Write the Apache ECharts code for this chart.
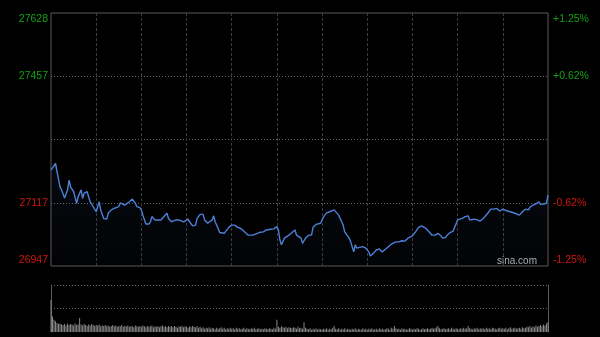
<!DOCTYPE html>
<html>
<head>
<meta charset="utf-8">
<script src="https://cdn.jsdelivr.net/npm/echarts@6/dist/echarts.min.js"></script>
<style>
html,body{margin:0;padding:0;background:#000;}
#c{width:600px;height:337px;}
</style>
</head>
<body>
<div id="c"></div>
<script>
// Index price by minute of the trading session (0 = 09:30, 330 = 16:00)
const minutes = [0,3,4,6,7,9,11,12,13,15,17,18,20,21,22,24,25,26,28,29,30,32,33,34,35,37,38,40,42,43,45,46,47,49,50,52,53,54,56,57,59,60,61,63,65,66,67,69,70,73,75,77,78,80,83,85,86,88,89,91,92,94,96,97,99,100,101,102,104,105,107,108,109,111,112,115,116,118,120,122,124,126,127,129,131,132,134,137,139,141,143,146,148,150,151,152,153,155,156,158,160,162,163,164,166,167,169,171,173,174,176,179,181,183,185,188,189,191,193,194,195,198,199,200,201,202,203,204,207,209,211,212,214,216,218,220,222,224,226,229,231,233,235,237,240,242,244,246,249,251,253,255,257,259,260,262,263,265,267,268,270,271,273,275,277,278,281,283,285,287,290,292,294,296,298,300,303,305,308,311,313,315,317,318,320,322,324,325,327,329,330];
const prices = [27205,27223,27201,27160,27152,27130,27152,27178,27160,27147,27116,27133,27152,27129,27143,27147,27143,27120,27107,27102,27093,27120,27098,27093,27075,27073,27089,27098,27102,27098,27107,27117,27116,27111,27113,27120,27123,27127,27116,27107,27104,27098,27084,27060,27060,27066,27080,27071,27066,27071,27080,27089,27075,27066,27071,27071,27075,27066,27071,27073,27066,27055,27057,27075,27086,27082,27086,27071,27062,27057,27071,27082,27066,27048,27037,27035,27039,27051,27057,27057,27051,27048,27048,27037,27030,27028,27030,27035,27038,27039,27044,27046,27047,27053,27044,27017,27004,27022,27024,27030,27037,27044,27030,27035,27022,27008,27022,27030,27030,27051,27059,27062,27080,27090,27093,27098,27093,27084,27066,27057,27039,27022,27012,27008,26985,27004,26995,26999,26999,26995,26985,26974,26981,26990,26993,26985,26992,26999,27006,27012,27012,27015,27014,27022,27028,27039,27051,27055,27048,27039,27030,27030,27035,27028,27022,27024,27030,27037,27041,27044,27071,27075,27075,27080,27082,27071,27073,27071,27068,27075,27089,27100,27100,27102,27095,27100,27095,27093,27089,27084,27093,27100,27098,27105,27111,27114,27120,27113,27114,27116,27138];

// Volume per minute (relative units, one bar per minute 0..330)
const volumes = [
68,33,26,23,19,17,18,16,15,17,
14,18,15,17,16,14,18,15,16,30,
16,14,17,15,13,16,14,17,15,13,
15,14,16,12,14,13,15,12,14,11,
13,15,12,14,11,13,12,15,11,13,
12,14,11,13,12,10,14,12,11,13,
11,14,12,10,13,11,12,14,10,12,
11,13,10,12,14,11,12,10,13,11,
12,10,13,11,9,12,11,13,10,12,
11,9,12,10,13,11,10,12,9,11,
8,10,7,9,8,10,7,9,8,6,
9,7,8,10,7,9,6,8,7,9,
7,8,6,9,7,8,6,7,9,6,
8,7,6,8,7,9,6,7,8,6,
7,6,8,7,6,8,7,6,9,7,
26,11,9,12,10,9,11,8,10,9,
8,10,9,7,11,8,9,7,21,9,
7,6,8,5,7,6,8,5,7,6,
5,7,6,8,5,7,6,9,13,7,
6,8,5,7,6,8,5,7,6,5,
7,6,8,5,7,6,5,8,6,7,
5,7,6,8,5,6,7,5,8,6,
7,5,6,8,7,5,9,7,13,8,
6,7,5,8,6,7,5,6,8,7,
5,7,6,8,7,5,6,8,6,7,
8,6,7,9,7,8,10,13,8,6,
7,8,6,7,8,6,9,7,6,8,
7,6,8,7,9,7,8,13,8,7,
6,8,7,9,6,8,7,8,6,9,
7,8,6,9,8,7,6,8,9,7,
8,7,9,6,8,10,7,8,9,7,
8,9,7,10,8,9,11,10,13,9,
12,10,14,11,13,15,12,16,14,18,
21];

// Y axis ticks and their labels
const yTicks = [26947, 27117.25, 27287.5, 27457.75, 27628];
const leftLabels = ['26947', '27117', '', '27457', '27628'];
const rightLabels = ['-1.25%', '-0.62%', '', '+0.62%', '+1.25%'];
const watermark = 'sina.com';

const GREEN = '#14a014', RED = '#d2160f';
const FONT = 'Liberation Sans, Arial, sans-serif';

function tickIndex(v){
  let best = 0;
  for (let i = 1; i < yTicks.length; i++) if (Math.abs(yTicks[i]-v) < Math.abs(yTicks[best]-v)) best = i;
  return best;
}
function labelFmt(arr){
  return function(v){
    const i = tickIndex(v);
    const t = arr[i];
    if (!t) return '';
    const col = i > 2 ? 'g' : 'r';
    const pos = i === yTicks.length-1 ? 'T' : (i === 0 ? 'B' : 'M');
    return '{' + col + pos + '|' + t + '}';
  };
}
const rich = {
  gT:{color:GREEN,padding:[12,0,0,0]}, gM:{color:GREEN}, gB:{color:GREEN,padding:[0,0,12,0]},
  rT:{color:RED,padding:[12,0,0,0]}, rM:{color:RED}, rB:{color:RED,padding:[0,0,12,0]}
};

const priceData = minutes.map((m, i) => [m, prices[i]]);
const volData = volumes.map((v, i) => [i, v]);

const chart = echarts.init(document.getElementById('c'));
chart.setOption({
  backgroundColor: '#000',
  animation: false,
  grid: [
    {left: 51, right: 52, top: 13, bottom: 71, show: true, borderColor: '#5a5a5a', borderWidth: 1, backgroundColor: 'transparent'},
    {left: 51, right: 52, top: 285, bottom: 5, show: false}
  ],
  xAxis: [
    {type: 'value', gridIndex: 0, min: 0, max: 330, interval: 30,
     axisLine: {show: false}, axisTick: {show: false}, axisLabel: {show: false},
     splitLine: {show: true, showMinLine: false, showMaxLine: false, lineStyle: {color: '#3c3c3c', type: [3, 2], width: 1}}},
    {type: 'value', gridIndex: 1, min: 0, max: 330,
     axisLine: {show: false}, axisTick: {show: false}, axisLabel: {show: false}, splitLine: {show: false}}
  ],
  yAxis: [
    {type: 'value', gridIndex: 0, position: 'left', min: 26947, max: 27628, interval: 170.25,
     axisLine: {show: false}, axisTick: {show: false},
     axisLabel: {show: true, margin: 3, fontSize: 10.5, fontFamily: FONT, formatter: labelFmt(leftLabels), rich: rich},
     splitLine: {show: true, showMinLine: false, showMaxLine: false, lineStyle: {color: '#6a6a6a', type: [1, 2], width: 1}}},
    {type: 'value', gridIndex: 0, position: 'right', min: 26947, max: 27628, interval: 170.25,
     axisLine: {show: false}, axisTick: {show: false},
     axisLabel: {show: true, margin: 5, fontSize: 10.5, fontFamily: FONT, formatter: labelFmt(rightLabels), rich: rich},
     splitLine: {show: false}},
    {type: 'value', gridIndex: 1, position: 'left', min: 0, max: 100, interval: 50,
     axisLine: {show: true, lineStyle: {color: '#5a5a5a'}}, axisTick: {show: false}, axisLabel: {show: false},
     splitLine: {show: true, showMinLine: false, lineStyle: {color: '#6a6a6a', type: [1, 2], width: 1}}},
    {type: 'value', gridIndex: 1, position: 'right', min: 0, max: 100, interval: 50,
     axisLine: {show: true, lineStyle: {color: '#5a5a5a'}}, axisTick: {show: false}, axisLabel: {show: false},
     splitLine: {show: false}}
  ],
  series: [
    {type: 'line', xAxisIndex: 0, yAxisIndex: 0, data: priceData, showSymbol: false, smooth: false,
     lineStyle: {color: '#4d80d6', width: 1.4},
     areaStyle: {origin: 'start', color: new echarts.graphic.LinearGradient(0, 0, 0, 1, [
       {offset: 0, color: 'rgba(50,80,140,0.16)'}, {offset: 1, color: 'rgba(50,80,140,0.05)'}])}},
    {type: 'bar', xAxisIndex: 1, yAxisIndex: 2, data: volData, barWidth: 1, barMinHeight: 0,
     itemStyle: {color: '#8a8a8a'}}
  ],
  graphic: [
    {type: 'text', right: 63, top: 256, silent: true,
     style: {text: watermark, fill: '#b0b0b0', font: '10px ' + FONT}}
  ]
});
</script>
</body>
</html>
